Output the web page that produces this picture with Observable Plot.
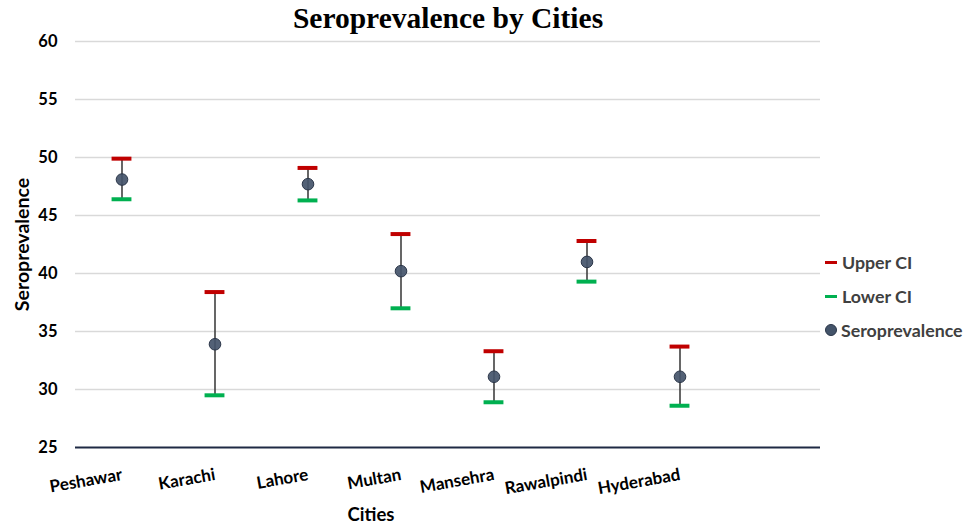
<!DOCTYPE html>
<html>
<head>
<meta charset="utf-8">
<script src="https://cdn.jsdelivr.net/npm/d3@7"></script>
<script src="https://cdn.jsdelivr.net/npm/@observablehq/plot@0.6"></script>
<style>
  html, body { margin: 0; padding: 0; background: #fff; }
  #wrap { position: relative; width: 972px; height: 524px; }
  #legend { position: absolute; left: 825px; top: 245px; font-family: Lato, "Open Sans", sans-serif; font-weight: bold; font-size: 17.8px; color: #404040; }
  #legend .item { display: flex; align-items: center; height: 34px; }
  #legend .sw { width: 12px; margin-right: 5px; display: inline-block; }
</style>
</head>
<body>
<div id="wrap"><div id="chart"></div><div id="legend"></div></div>
<script>
const cities = ["Peshawar", "Karachi", "Lahore", "Multan", "Mansehra", "Rawalpindi", "Hyderabad"];
const seroprevalence = [48.1, 33.9, 47.7, 40.2, 31.1, 41.0, 31.1];
const upperCI = [49.9, 38.4, 49.1, 43.4, 33.3, 42.8, 33.7];
const lowerCI = [46.4, 29.5, 46.3, 37.0, 28.9, 39.3, 28.6];
const yTicks = [25, 30, 35, 40, 45, 50, 55, 60];
const legendItems = ["Upper CI", "Lower CI", "Seroprevalence"];

const data = cities.map((c, i) => ({city: c, sero: seroprevalence[i], upper: upperCI[i], lower: lowerCI[i]}));

const W = 972, H = 524, mL = 75, mR = 152, mT = 41, mB = 77;
const frameW = W - mL - mR;
const band = frameW / 8; // Excel-style category axis with one empty slot
const capInset = (band - 20) / 2;
const font = "Lato, 'Open Sans', sans-serif";

const chart = Plot.plot({
  width: W,
  height: H,
  marginLeft: mL,
  marginRight: mR,
  marginTop: mT,
  marginBottom: mB,
  style: {fontFamily: font, background: "#fff", overflow: "visible"},
  x: {type: "band", domain: cities, range: [mL, mL + band * cities.length], padding: 0, label: null},
  y: {domain: [25, 60], ticks: yTicks, label: null},
  marks: [
    Plot.ruleY(yTicks.filter(t => t > 25), {stroke: "#d9d9d9", strokeWidth: 1.5}),
    Plot.ruleY([25], {stroke: "#1f2a44", strokeWidth: 2}),
    Plot.axisY({ticks: yTicks, tickSize: 0, tickPadding: 18, fontSize: 16.5, fontWeight: "bold", fill: "#000", label: null}),
    Plot.axisX({tickSize: 0, tickPadding: 27, tickRotate: -10, fontSize: 17, fontWeight: "bold", fill: "#000", label: null}),
    Plot.ruleX(data, {x: "city", y1: "lower", y2: "upper", stroke: "#404040", strokeWidth: 1.6}),
    Plot.tickY(data, {x: "city", y: "upper", stroke: "#c00000", strokeWidth: 4, inset: capInset}),
    Plot.tickY(data, {x: "city", y: "lower", stroke: "#00b050", strokeWidth: 4, inset: capInset}),
    Plot.dot(data, {x: "city", y: "sero", r: 5.8, fill: "#44546a", fillOpacity: 0.92, stroke: "#2b3649", strokeWidth: 1}),
    Plot.text(["Seroprevalence by Cities"], {frameAnchor: "top", dy: -34, fontSize: 29.5, fontWeight: "bold", fontFamily: "'Liberation Serif', 'Times New Roman', serif", fill: "#000"}),
    Plot.text(["Seroprevalence"], {frameAnchor: "left", textAnchor: "middle", dx: -53, rotate: -90, fontSize: 19.5, fontWeight: "bold", fill: "#000"}),
    Plot.text(["Cities"], {frameAnchor: "bottom", dx: -77, dy: 73, fontSize: 18.5, fontWeight: "bold", fill: "#000"})
  ]
});
document.getElementById("chart").appendChild(chart);

const legend = document.getElementById("legend");
const sw = [
  '<span class="sw" style="height:3px;background:#c00000"></span>',
  '<span class="sw" style="height:3px;background:#00b050"></span>',
  '<span class="sw" style="width:10px;height:10px;border-radius:50%;background:#44546a;border:1px solid #2b3649;margin-right:4px"></span>'
];
legendItems.forEach((t, i) => {
  const d = document.createElement("div");
  d.className = "item";
  d.innerHTML = sw[i] + "<span>" + t + "</span>";
  legend.appendChild(d);
});
</script>
</body>
</html>
